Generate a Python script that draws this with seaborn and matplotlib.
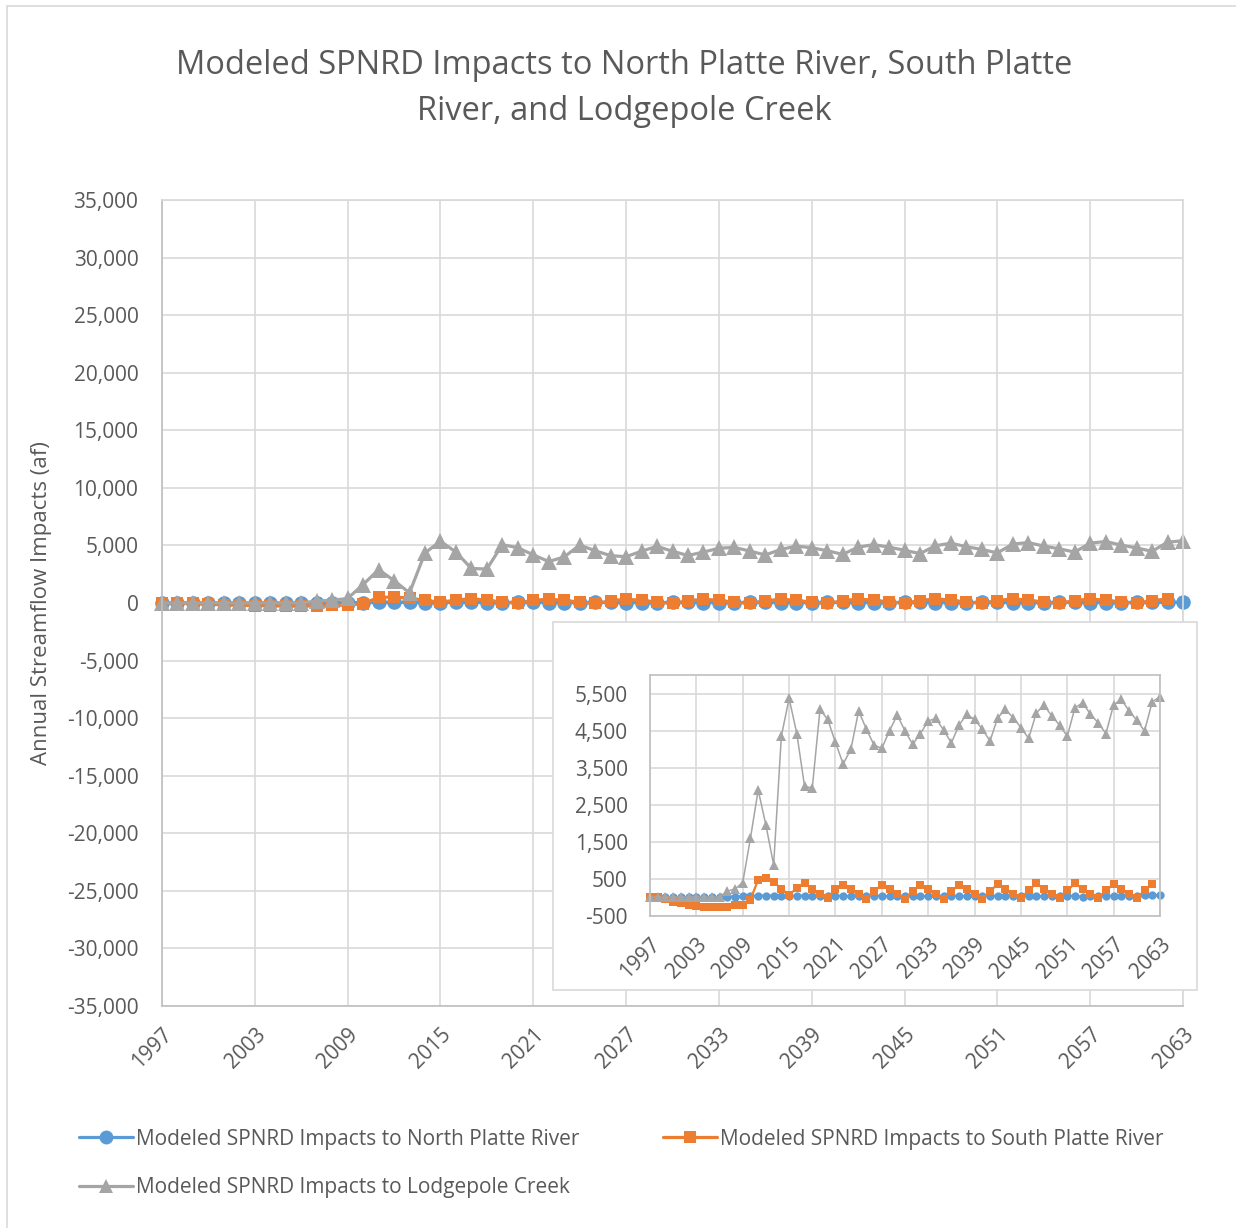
import numpy as np
import matplotlib
matplotlib.use('Agg')
import matplotlib.pyplot as plt
import seaborn as sns
from matplotlib.lines import Line2D
from matplotlib.patches import Rectangle
from matplotlib.ticker import FuncFormatter

# Data (acre-feet per year)
years = list(range(1997, 2064))

north_platte = [0, 0, 0, 0, 0, 0, 0, 0, 0, 0,
                10, 20, 30, 40, 50, 50, 50, 40, 40, 50,
                50, 40, 40, 50, 50, 40, 30, 40, 50, 50,
                40, 30, 40, 50, 50, 40, 30, 40, 50, 50,
                40, 30, 40, 50, 50, 40, 30, 40, 50, 50,
                40, 30, 40, 50, 50, 40, 20, 30, 50, 50,
                40, 30, 40, 50, 60, 60, 60]

south_platte = [0, 0, -40, -120, -160, -200, -230, -250, -270, -270,
                -250, -215, -190, -55, 480, 530, 420, 230, 70, 250,
                390, 230, 100, -10, 220, 340, 220, 80, -40, 170,
                340, 220, 80, -40, 170, 340, 220, 80, -40, 170,
                340, 220, 80, -40, 170, 360, 230, 100, -20, 190,
                380, 230, 100, -20, 190, 380, 230, 100, -20, 190,
                360, 230, 100, -20, 190, 360, np.nan]

lodgepole = [10, 10, 10, 10, 10, 10, 10, 10, 10, 10,
             170, 230, 400, 1600, 2900, 1950, 880, 4350, 5370, 4420,
             3000, 2950, 5070, 4800, 4180, 3600, 4000, 5030, 4540, 4110,
             4020, 4500, 4920, 4490, 4130, 4420, 4760, 4830, 4510, 4170,
             4650, 4940, 4800, 4540, 4220, 4850, 5070, 4850, 4580, 4290,
             4980, 5190, 4890, 4650, 4350, 5120, 5250, 4940, 4710, 4420,
             5200, 5340, 5030, 4780, 4490, 5280, 5410]

labels = ['Modeled SPNRD Impacts to North Platte River',
          'Modeled SPNRD Impacts to South Platte River',
          'Modeled SPNRD Impacts to Lodgepole Creek']
colors = ['#5B9BD5', '#ED7D31', '#A5A5A5']
markers = ['o', 's', '^']
series = [north_platte, south_platte, lodgepole]

main_ticks = list(range(1997, 2064, 6))
main_yticks = list(range(-35000, 35001, 5000))
inset_yticks = list(range(-500, 5501, 1000))

sns.set_theme(style='white')
plt.rcParams['font.family'] = ['Open Sans', 'DejaVu Sans']
txt = '#595959'
grid_c = '#d9d9d9'
axis_c = '#bfbfbf'

W, H = 1236, 1228
fig = plt.figure(figsize=(W / 100, H / 100), dpi=100)

# Chart-area border
fig.patches.append(Rectangle((7 / W, -0.02), 1.1, 1 - 6 / H + 0.02, transform=fig.transFigure,
                             fill=False, edgecolor=grid_c, lw=1.2, zorder=0))

# Title
fig.text(624 / W, 1 - 66 / H, 'Modeled SPNRD Impacts to North Platte River, South Platte',
         ha='center', va='center', fontsize=23.5, color=txt)
fig.text(624 / W, 1 - 111 / H, 'River, and Lodgepole Creek',
         ha='center', va='center', fontsize=23.5, color=txt)


def fmt(v, p):
    return f'{v:,.0f}'


# Main axes
ax = fig.add_axes([162 / W, 1 - 1006 / H, (1183 - 162) / W, (1006 - 200) / H])
main_ms = [10.5, 9, 11]
for vals, c, m, ms in zip(series, colors, markers, main_ms):
    sns.lineplot(x=years, y=vals, ax=ax, color=c, marker=m, markersize=ms,
                 markeredgewidth=0, linewidth=2.3, clip_on=False)
ax.set_xlim(1997, 2063)
ax.set_ylim(-35000, 35000)
ax.set_xticks(main_ticks)
ax.set_xticklabels([str(t) for t in main_ticks], rotation=45, ha='right',
                   rotation_mode='anchor', fontsize=15, color=txt)
ax.set_yticks(main_yticks)
ax.yaxis.set_major_formatter(FuncFormatter(fmt))
ax.tick_params(axis='y', length=0, pad=17, labelsize=15, labelcolor=txt)
ax.tick_params(axis='x', length=0, pad=13)
ax.grid(True, color=grid_c, lw=1.2)
for s in ['top', 'right']:
    ax.spines[s].set_color(grid_c)
for s in ['left', 'bottom']:
    ax.spines[s].set_color(axis_c)
    ax.spines[s].set_linewidth(1.2)
ax.set_ylabel('Annual Streamflow Impacts (af)', fontsize=16, color=txt)
ax.yaxis.set_label_coords((52 - 162) / (1183 - 162), 0.5)

# Inset background
fig.patches.append(Rectangle((553 / W, 1 - 990 / H), (1197 - 553) / W, (990 - 622) / H,
                             transform=fig.transFigure, facecolor='white',
                             edgecolor=grid_c, lw=1.2, zorder=1))

# Inset axes
ax2 = fig.add_axes([650 / W, 1 - 916 / H, (1160 - 650) / W, (916 - 675) / H], zorder=2)
inset_ms = [6, 5.5, 6.5]
inset_lw = [1.6, 1.6, 1.1]
for vals, c, m, ms, lw in zip(series, colors, markers, inset_ms, inset_lw):
    sns.lineplot(x=years, y=vals, ax=ax2, color=c, marker=m, markersize=ms,
                 markeredgewidth=0, linewidth=lw, clip_on=False)
ax2.set_xlim(1997, 2063)
ax2.set_ylim(-500, 6000)
ax2.set_xticks(main_ticks)
ax2.set_xticklabels([str(t) for t in main_ticks], rotation=45, ha='right',
                    rotation_mode='anchor', fontsize=15, color=txt)
ax2.set_yticks(inset_yticks)
ax2.yaxis.set_major_formatter(FuncFormatter(fmt))
ax2.tick_params(axis='y', length=0, pad=16, labelsize=15, labelcolor=txt)
ax2.tick_params(axis='x', length=0, pad=13)
ax2.grid(True, color=grid_c, lw=1.2)
for s in ax2.spines.values():
    s.set_color(axis_c)
    s.set_linewidth(1.2)

# Legend (row-wise order)
handles = []
for c, m, ms in zip(colors, markers, [10, 9, 10]):
    handles.append(Line2D([], [], color=c, marker=m, markersize=ms, markeredgewidth=0, lw=2.3))
order = [0, 2, 1]
leg = fig.legend([handles[i] for i in order], [labels[i] for i in order], ncol=2,
                 loc='upper left', bbox_to_anchor=(60 / W, 1 - 1110 / H), frameon=False,
                 fontsize=15, handlelength=2.6, handletextpad=0.15, columnspacing=4.0,
                 labelspacing=1.3)
for t in leg.get_texts():
    t.set_color(txt)

fig.savefig('out.png', dpi=100)
